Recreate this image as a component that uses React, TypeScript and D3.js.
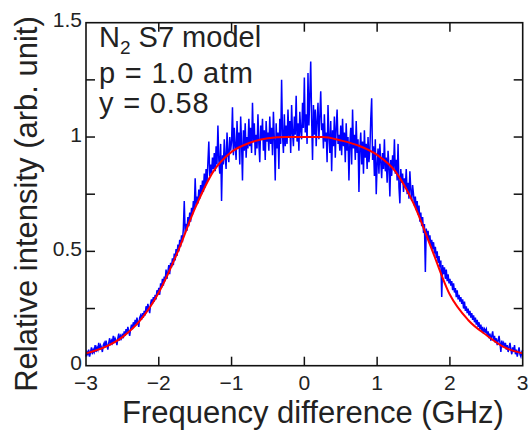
import React from "react";
import * as d3 from "d3";

// Model (red) curve: frequency (GHz) vs relative intensity
const modelFreq = [-3, -2.75, -2.5, -2.25, -2, -1.75, -1.5, -1.25, -1, -0.75, -0.5, -0.25, 0, 0.25, 0.5, 0.75, 1, 1.25, 1.5, 1.75, 2, 2.25, 2.5, 2.75, 3];
const modelIntensity = [0.054, 0.08, 0.125, 0.2, 0.32, 0.49, 0.69, 0.85, 0.935, 0.975, 0.995, 1.0, 1.0, 1.0, 0.985, 0.962, 0.922, 0.85, 0.71, 0.51, 0.31, 0.2, 0.134, 0.08, 0.054];

// Measured (blue) spectrum, sampled every 0.0125 GHz from -3 GHz
const measuredStart = -3;
const measuredStep = 0.0125;
const measuredIntensity = [
  0.04, 0.06, 0.05, 0.07, 0.04, 0.06, 0.08, 0.05, 0.07, 0.06, 0.09, 0.06, 0.08, 0.07, 0.10, 0.07, 0.09, 0.08, 0.06, 0.09,
  0.10, 0.08, 0.11, 0.09, 0.07, 0.10, 0.12, 0.09, 0.11, 0.10, 0.13, 0.10, 0.12, 0.11, 0.09, 0.12, 0.14, 0.11, 0.13, 0.12,
  0.14, 0.12, 0.15, 0.13, 0.16, 0.14, 0.17, 0.15, 0.13, 0.16, 0.18, 0.16, 0.19, 0.17, 0.20, 0.18, 0.21, 0.19, 0.17, 0.21,
  0.22, 0.20, 0.23, 0.21, 0.24, 0.22, 0.26, 0.24, 0.27, 0.25, 0.23, 0.27, 0.29, 0.27, 0.30, 0.28, 0.31, 0.29, 0.33, 0.31,
  0.34, 0.31, 0.36, 0.34, 0.38, 0.35, 0.39, 0.37, 0.42, 0.38, 0.41, 0.44, 0.40, 0.45, 0.43, 0.47, 0.44, 0.49, 0.46, 0.51,
  0.48, 0.53, 0.50, 0.55, 0.52, 0.57, 0.54, 0.60, 0.72, 0.58, 0.62, 0.59, 0.65, 0.61, 0.67, 0.63, 0.69, 0.66, 0.72, 0.68,
  0.82, 0.70, 0.74, 0.71, 0.77, 0.73, 0.79, 0.75, 0.81, 0.76, 0.84, 0.78, 0.86, 0.80, 0.89, 0.98, 0.83, 0.88, 0.84, 0.91,
  0.86, 0.93, 0.85, 0.96, 0.88, 1.05, 0.90, 0.84, 0.97, 0.72, 0.92, 0.88, 0.99, 0.91, 0.86, 1.02, 0.93, 0.89, 1.00, 0.94,
  0.98, 1.13, 0.92, 1.04, 0.96, 0.90, 1.07, 0.95, 1.02, 0.88, 1.09, 0.97, 0.81, 1.03, 0.94, 1.06, 0.91, 1.00, 0.95, 1.08,
  0.96, 1.04, 0.93, 1.15, 0.98, 1.06, 0.92, 1.01, 0.95, 1.10, 0.97, 0.89, 1.05, 0.99, 1.08, 0.94, 1.03, 0.90, 1.07, 0.98,
  1.02, 0.94, 1.09, 0.97, 1.04, 0.92, 1.11, 0.99, 0.81, 1.06, 0.95, 1.02, 0.86, 1.08, 0.97, 1.25, 1.01, 0.93, 1.10, 0.96,
  1.05, 0.97, 1.12, 1.00, 1.07, 0.93, 1.14, 1.02, 0.96, 1.09, 1.01, 1.18, 0.98, 1.06, 0.94, 1.11, 1.03, 0.99, 1.15, 1.04,
  1.26, 1.02, 1.10, 0.97, 1.28, 1.05, 1.18, 1.33, 1.08, 0.90, 1.14, 1.01, 1.12, 0.96, 1.07, 1.15, 0.99, 1.09, 1.20, 1.03,
  1.06, 0.95, 1.10, 0.98, 1.02, 0.89, 1.14, 1.00, 0.93, 1.07, 0.85, 1.03, 0.96, 1.09, 0.91, 1.04, 1.12, 0.97, 1.01, 0.94,
  1.05, 0.92, 1.08, 0.96, 1.02, 0.89, 1.06, 0.94, 1.00, 0.81, 0.97, 1.04, 0.88, 1.12, 0.95, 1.01, 0.90, 1.07, 0.93, 0.99,
  0.76, 0.95, 1.02, 0.88, 0.98, 0.84, 1.03, 0.91, 0.97, 0.86, 1.00, 0.89, 0.94, 1.08, 1.17, 0.90, 0.96, 0.83, 0.99, 0.75,
  0.88, 0.95, 0.84, 0.97, 0.89, 0.82, 0.93, 0.86, 0.99, 0.85, 0.91, 0.80, 0.94, 0.87, 0.74, 0.90, 0.83, 0.92, 0.86, 0.99,
  0.84, 0.90, 0.81, 0.97, 0.78, 0.71, 0.86, 0.80, 0.84, 0.76, 0.82, 0.78, 0.86, 0.75, 0.80, 0.73, 0.85, 0.77, 0.72, 0.79,
  0.75, 0.70, 0.74, 0.68, 0.72, 0.66, 0.70, 0.63, 0.67, 0.61, 0.65, 0.58, 0.62, 0.41, 0.60, 0.56, 0.59, 0.54, 0.57, 0.52,
  0.55, 0.51, 0.54, 0.49, 0.52, 0.47, 0.50, 0.45, 0.48, 0.43, 0.46, 0.30, 0.44, 0.40, 0.43, 0.38, 0.42, 0.37, 0.40, 0.36,
  0.38, 0.35, 0.37, 0.33, 0.36, 0.32, 0.34, 0.30, 0.33, 0.29, 0.31, 0.28, 0.30, 0.27, 0.29, 0.25, 0.28, 0.24, 0.26, 0.23,
  0.25, 0.22, 0.24, 0.21, 0.23, 0.20, 0.22, 0.19, 0.21, 0.18, 0.20, 0.17, 0.19, 0.16, 0.18, 0.15, 0.17, 0.14, 0.16, 0.15,
  0.16, 0.13, 0.15, 0.12, 0.14, 0.11, 0.13, 0.15, 0.11, 0.13, 0.10, 0.12, 0.09, 0.11, 0.13, 0.10, 0.06, 0.11, 0.09, 0.10,
  0.08, 0.10, 0.07, 0.09, 0.06, 0.08, 0.10, 0.07, 0.05, 0.08, 0.06, 0.09, 0.05, 0.07, 0.04, 0.06, 0.08, 0.05, 0.04, 0.06,
  0.07,
];

const xTicks = [-3, -2, -1, 0, 1, 2, 3];
const xTickLabels = ["\u22123", "\u22122", "\u22121", "0", "1", "2", "3"];
const yTicks = [0, 0.25, 0.5, 0.75, 1, 1.25, 1.5];
const yLabelTicks = [0, 0.5, 1, 1.5];
const yTickLabels = ["0", "0.5", "1", "1.5"];

const W = 531;
const H = 433;
const L = 86, R = 522.7, T = 22.7, B = 365.7;
const FONT = "'Liberation Sans', Arial, Helvetica, sans-serif";
const TEXT = "#222";

export default function App() {
  const x = d3.scaleLinear().domain([-3, 3]).range([L, R]);
  const y = d3.scaleLinear().domain([0, 1.5]).range([B, T]);

  const measured = measuredIntensity.map((v, i) => [measuredStart + i * measuredStep, v] as [number, number]);
  const model = modelFreq.map((f, i) => [f, modelIntensity[i]] as [number, number]);

  const blueLine = d3.line<[number, number]>().x(d => x(d[0])).y(d => y(d[1]))(measured) || "";
  const redLine = d3.line<[number, number]>().x(d => x(d[0])).y(d => y(d[1])).curve(d3.curveMonotoneX)(model) || "";

  const tk = 9;

  return (
    <svg width={W} height={H} style={{ position: "absolute", left: 0, top: 0, background: "#fff" }} fontFamily={FONT}>
      <rect x={0} y={0} width={W} height={H} fill="#fff" />
      <path d={blueLine} fill="none" stroke="#0000ff" strokeWidth={1.5} strokeLinejoin="miter" />
      <path d={redLine} fill="none" stroke="#ff0000" strokeWidth={2} />

      {/* frame */}
      <rect x={L} y={T} width={R - L} height={B - T} fill="none" stroke="#111" strokeWidth={1.6} />

      {/* x ticks bottom and top */}
      {xTicks.slice(1, -1).map(t => (
        <g key={"xt" + t}>
          <line x1={x(t)} x2={x(t)} y1={B} y2={B - tk} stroke="#111" strokeWidth={1.5} />
          <line x1={x(t)} x2={x(t)} y1={T} y2={T + tk} stroke="#111" strokeWidth={1.5} />
        </g>
      ))}
      {/* y ticks left and right */}
      {yTicks.slice(1, -1).map(t => (
        <g key={"yt" + t}>
          <line x1={L} x2={L + tk} y1={y(t)} y2={y(t)} stroke="#111" strokeWidth={1.5} />
          <line x1={R} x2={R - tk} y1={y(t)} y2={y(t)} stroke="#111" strokeWidth={1.5} />
        </g>
      ))}

      {/* x tick labels */}
      {xTicks.map((t, i) => (
        <text key={"xl" + t} x={x(t)} y={390} textAnchor="middle" fontSize={21} fill={TEXT}>{xTickLabels[i]}</text>
      ))}
      {/* y tick labels */}
      {yLabelTicks.map((t, i) => (
        <text key={"yl" + t} x={82} y={y(t) + 4.5} textAnchor="end" fontSize={21} fill={TEXT}>{yTickLabels[i]}</text>
      ))}

      {/* axis titles */}
      <text x={313} y={423} textAnchor="middle" fontSize={31} fill={TEXT}>Frequency difference (GHz)</text>
      <text transform={`translate(37,204) rotate(-90)`} textAnchor="middle" fontSize={31} fill={TEXT}>Relative intensity (arb. unit)</text>

      {/* annotation */}
      <text x={99} y={47} fontSize={29} fill={TEXT}>
        N<tspan fontSize={19} dy={7}>2</tspan><tspan dy={-7}> S7 model</tspan>
      </text>
      <text x={99} y={83} fontSize={29} fill={TEXT} letterSpacing={0.8}>p = 1.0 atm</text>
      <text x={99} y={113} fontSize={29} fill={TEXT} letterSpacing={0.8}>y = 0.58</text>
    </svg>
  );
}
